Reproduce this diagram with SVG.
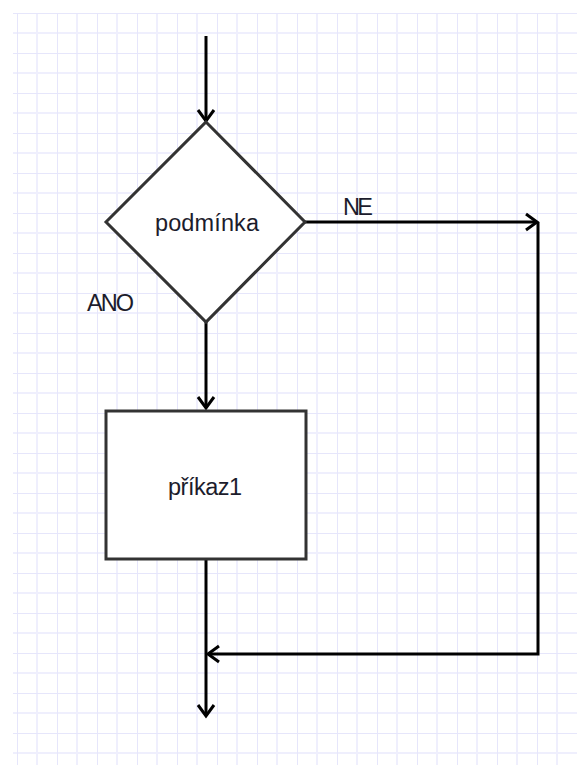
<svg xmlns="http://www.w3.org/2000/svg" width="577" height="765" viewBox="0 0 577 765">
  <style>
    .shape { fill: #ffffff; stroke: #333333; stroke-width: 3; }
    .conn { fill: none; stroke: #000000; stroke-width: 3; }
    .label { font-family: "Liberation Sans", Arial, sans-serif; font-size: 23.5px; fill: #1c1c2c; }
  </style>
  <defs>
    <pattern id="grid" patternUnits="userSpaceOnUse" x="17" y="13" width="40" height="40">
      <rect x="0" y="0" width="40" height="40" fill="#ffffff"/>
      <line x1="20" y1="0" x2="20" y2="40" stroke="#efeffd" stroke-width="2"/>
      <line x1="0" y1="20" x2="40" y2="20" stroke="#efeffd" stroke-width="2"/>
      <line x1="0" y1="0" x2="0" y2="40" stroke="#e6e6fb" stroke-width="2"/>
      <line x1="0" y1="0" x2="40" y2="0" stroke="#e6e6fb" stroke-width="2"/>
    </pattern>
    <marker id="arrow" markerUnits="userSpaceOnUse" viewBox="-14 -11 18 22" markerWidth="18" markerHeight="22" refX="0" refY="0" orient="auto">
      <path d="M-11,-8 L0,0 L-11,8" fill="none" stroke="#000000" stroke-width="3"/>
    </marker>
  </defs>

  <rect x="0" y="0" width="577" height="765" fill="#ffffff"/>
  <rect x="13" y="13" width="564" height="752" fill="url(#grid)"/>

  <g id="connectors">
    <line class="conn" x1="206" y1="36" x2="206" y2="121" marker-end="url(#arrow)"/>
    <line class="conn" x1="206" y1="322" x2="206" y2="408" marker-end="url(#arrow)"/>
    <line class="conn" x1="305" y1="222" x2="537" y2="222" marker-end="url(#arrow)"/>
    <polyline class="conn" points="538,222 538,654 208,654" marker-end="url(#arrow)"/>
    <line class="conn" x1="206" y1="559" x2="206" y2="716" marker-end="url(#arrow)"/>
  </g>

  <g id="condition">
    <polygon class="shape" points="206,122 305,222 206,322 106,222"/>
    <text class="label" x="155" y="231" textLength="104">podmínka</text>
  </g>

  <g id="command">
    <rect class="shape" x="106" y="411" width="200" height="148"/>
    <text class="label" x="168" y="495" textLength="74">příkaz1</text>
  </g>

  <g id="labels">
    <text class="label" x="87" y="311" textLength="47">ANO</text>
    <text class="label" x="343" y="215" textLength="30">NE</text>
  </g>
</svg>
